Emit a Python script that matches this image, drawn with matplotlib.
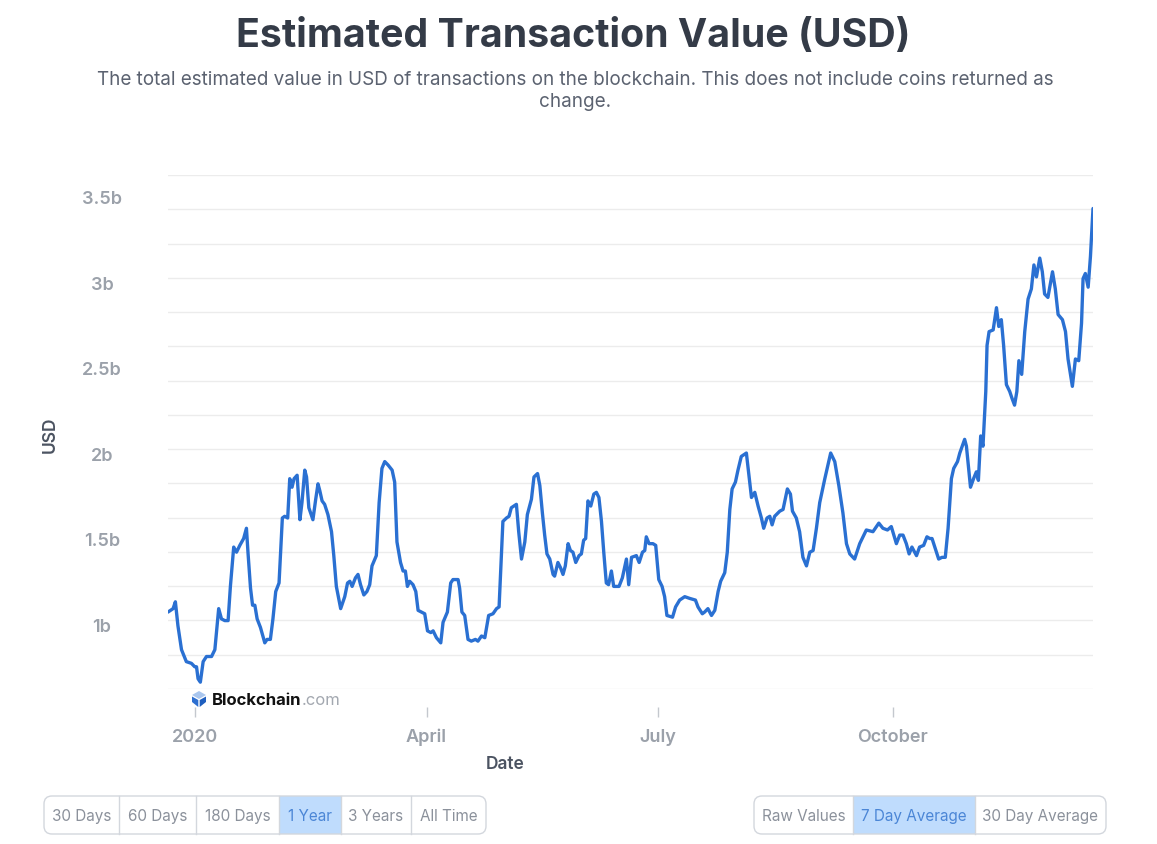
import matplotlib
matplotlib.use("Agg")
import numpy as np
import pandas as pd
import matplotlib.pyplot as plt
from matplotlib.patches import FancyBboxPatch, Rectangle, Polygon
from matplotlib.ticker import FixedLocator

plt.rcParams["font.family"] = ["Inter", "DejaVu Sans"]

# ── Data (7 day average, billions USD) ─────────
START_DATE = "2020-01-01"
DAY_OFFSETS = [
    -10.5, -8.5, -7.6, -6.6, -5.2, -3.3, -1.3, 0.0, 0.7, 1.3, 2.2, 3.3, 4.6, 6.6, 7.9, 9.4,
    10.5, 11.8, 13.1, 14.0, 15.3, 16.4, 17.7, 19.2, 20.3, 20.9, 21.9, 22.7, 23.6, 24.5, 25.8,
    27.5, 28.4, 29.7, 30.7, 31.8, 33.1, 34.4, 35.3, 36.5, 37.3, 38.2, 39.0, 40.2, 41.3, 42.1,
    43.2, 43.9, 44.8, 46.4, 47.5, 48.4, 49.1, 50.0, 51.0, 52.3, 53.7, 54.6, 55.6, 57.3, 58.9,
    60.0, 60.9, 61.8, 63.1, 64.1, 65.1, 66.4, 67.6, 68.7, 69.6, 71.3, 72.4, 73.5, 74.6, 75.9,
    77.5, 78.5, 79.4, 80.8, 81.8, 82.7, 83.5, 84.4, 85.7, 86.8, 87.7, 89.0, 90.3, 91.4, 92.7,
    93.6, 94.9, 96.6, 97.5, 99.2, 100.5, 101.4, 103.4, 104.0, 104.9, 106.0, 107.3, 108.6,
    110.2, 111.2, 112.6, 113.9, 115.4, 117.1, 118.5, 119.5, 121.0, 122.4, 123.4, 124.3, 126.3,
    127.2, 128.3, 129.6, 130.6, 132.2, 133.2, 133.9, 134.6, 135.5, 136.5, 137.4, 138.3, 139.4,
    140.7, 141.3, 142.6, 143.6, 144.6, 145.5, 146.6, 147.5, 148.5, 149.6, 150.9, 151.8, 152.7,
    153.5, 154.4, 155.5, 156.7, 157.7, 158.7, 159.7, 160.6, 161.6, 162.5, 163.6, 164.5, 165.6,
    166.6, 167.9, 169.5, 170.4, 171.5, 173.4, 174.5, 175.8, 176.7, 177.3, 178.4, 179.9, 181.0,
    182.2, 183.5, 184.5, 185.4, 187.6, 188.8, 190.4, 192.4, 194.3, 196.6, 197.6, 199.3, 200.2,
    201.5, 202.9, 204.2, 205.5, 206.5, 208.1, 209.1, 210.1, 211.0, 212.3, 213.3, 214.6, 216.6,
    217.6, 218.6, 219.9, 221.2, 222.5, 223.4, 224.7, 225.8, 226.7, 227.7, 229.7, 231.0, 232.7,
    233.9, 234.7, 236.2, 237.5, 238.8, 240.2, 241.5, 242.8, 244.1, 245.4, 247.4, 249.7, 251.3,
    252.9, 254.5, 255.9, 257.2, 259.1, 261.1, 263.7, 266.3, 268.6, 270.2, 272.0, 273.5, 275.5,
    276.8, 278.1, 279.4, 280.5, 281.6, 283.4, 284.6, 286.2, 287.5, 288.6, 289.5, 290.8, 292.1,
    293.4, 294.7, 295.8, 297.1, 298.0, 299.5, 300.4, 302.3, 303.0, 304.6, 305.8, 306.9, 307.7,
    308.6, 309.5, 310.6, 311.1, 311.9, 313.5, 314.8, 315.7, 316.7, 317.6, 318.7, 320.0, 320.9,
    321.9, 322.8, 323.6, 324.7, 325.9, 327.2, 328.5, 329.5, 330.5, 331.8, 332.8, 333.7, 335.0,
    336.8, 337.9, 339.0, 340.7, 341.9, 342.9, 344.6, 345.8, 347.1, 348.2, 348.8, 349.7, 350.8,
    351.7, 352.7,
]
VALUES_B = [
    1.07, 1.09, 1.13, 0.99, 0.85, 0.78, 0.77, 0.75, 0.75, 0.68, 0.66, 0.78, 0.81, 0.81, 0.85, 1.09,
    1.03, 1.02, 1.02, 1.22, 1.45, 1.42, 1.46, 1.50, 1.56, 1.42, 1.21, 1.11, 1.11, 1.03, 0.98,
    0.89, 0.91, 0.91, 1.03, 1.19, 1.24, 1.62, 1.63, 1.62, 1.85, 1.80, 1.85, 1.87, 1.61, 1.71,
    1.90, 1.86, 1.68, 1.61, 1.73, 1.82, 1.78, 1.72, 1.70, 1.64, 1.54, 1.40, 1.22, 1.09, 1.16,
    1.24, 1.25, 1.22, 1.27, 1.29, 1.23, 1.17, 1.19, 1.23, 1.34, 1.40, 1.71, 1.91, 1.95, 1.93,
    1.90, 1.83, 1.48, 1.36, 1.31, 1.31, 1.22, 1.25, 1.23, 1.19, 1.08, 1.07, 1.06, 0.96, 0.95,
    0.96, 0.92, 0.89, 1.01, 1.07, 1.24, 1.26, 1.26, 1.21, 1.07, 1.05, 0.91, 0.90,
    0.91, 0.90, 0.93, 0.92, 1.05, 1.06, 1.09, 1.10, 1.60, 1.62, 1.63, 1.68, 1.70,
    1.54, 1.38, 1.48, 1.64, 1.73, 1.86, 1.87, 1.88, 1.81, 1.65, 1.52, 1.41, 1.38,
    1.29, 1.28, 1.36, 1.33, 1.29, 1.34, 1.47, 1.43, 1.42, 1.36, 1.40, 1.41, 1.49,
    1.50, 1.72, 1.69, 1.76, 1.77, 1.74, 1.60, 1.42, 1.24, 1.23, 1.31, 1.22, 1.22,
    1.22, 1.27, 1.38, 1.23, 1.39, 1.40, 1.36, 1.42, 1.43, 1.51, 1.47, 1.47, 1.46,
    1.26, 1.22, 1.16, 1.05, 1.04, 1.10, 1.14, 1.16, 1.15, 1.14, 1.10, 1.06, 1.07,
    1.09, 1.05, 1.08, 1.19, 1.25, 1.30, 1.42, 1.67, 1.79, 1.83, 1.90, 1.98, 2.00,
    1.87, 1.74, 1.77, 1.69, 1.62, 1.56, 1.62, 1.63, 1.58, 1.63, 1.66, 1.67, 1.79,
    1.76, 1.66, 1.62, 1.54, 1.39, 1.34, 1.42, 1.43, 1.56, 1.71, 1.85, 2.00, 1.95,
    1.81, 1.65, 1.47, 1.41, 1.38, 1.47, 1.55, 1.54, 1.59, 1.56, 1.55, 1.57, 1.47,
    1.52, 1.52, 1.47, 1.41, 1.45, 1.40, 1.45, 1.46, 1.51, 1.50, 1.50, 1.44, 1.38,
    1.39, 1.39, 1.56, 1.85, 1.91, 1.95, 2.00, 2.08, 2.04, 1.80, 1.85, 1.89, 1.84,
    2.10, 2.04, 2.36, 2.63, 2.71, 2.72, 2.85, 2.74, 2.78, 2.63, 2.40, 2.36, 2.32,
    2.28, 2.36, 2.54, 2.46, 2.71, 2.90, 2.96, 3.10, 3.03, 3.14, 3.06, 2.93, 2.91,
    3.06, 2.96, 2.81, 2.78, 2.71, 2.55, 2.39, 2.55, 2.54, 2.76, 3.02, 3.05, 2.97,
    3.15, 3.43,
]

TICK_DATES = ["2020-01-01", "2020-04-01", "2020-07-01", "2020-10-01"]
TICK_LABELS = ["2020", "April", "July", "October"]
Y_TICKS = [1.0, 1.5, 2.0, 2.5, 3.0, 3.5]
Y_LABELS = ["1b", "1.5b", "2b", "2.5b", "3b", "3.5b"]
RANGE_BUTTONS = ["30 Days", "60 Days", "180 Days", "1 Year", "3 Years", "All Time"]
AVG_BUTTONS = ["Raw Values", "7 Day Average", "30 Day Average"]

TITLE = "Estimated Transaction Value (USD)"
SUBTITLE = ("The total estimated value in USD of transactions on the blockchain. "
            "This does not include coins returned as\nchange.")

COLORS = {
    "line": "#2a70d2",
    "grid": "#ececec",
    "tick": "#9ba1aa",
    "axis_label": "#4b5361",
    "title": "#343b47",
    "subtitle": "#5b6270",
    "btn_text": "#8b919b",
    "btn_active_bg": "#bfdcfd",
    "btn_active_text": "#4b86d6",
    "btn_border": "#d3d7dd",
}

W, H = 1157, 845
fig = plt.figure(figsize=(W / 100, H / 100), dpi=100, facecolor="white")

# ── Main chart ─────────────────────────────────
ax = fig.add_axes([168 / W, 1 - 690 / H, 925 / W, 514 / H])
dates = pd.Timestamp(START_DATE) + pd.to_timedelta(DAY_OFFSETS, unit="D")
ax.plot(dates, VALUES_B, color=COLORS["line"], linewidth=2.4,
        solid_joinstyle="round", solid_capstyle="round", zorder=3)

y0, y1 = 0.62, 3.626
ax.set_ylim(y0, y1)
ax.set_xlim(dates[0], dates[-1])

for s in ax.spines.values():
    s.set_color("none")
ax.spines["bottom"].set_position(("outward", 13))

ax.set_yticks(Y_TICKS)
ax.set_yticklabels(Y_LABELS)
ax.yaxis.set_minor_locator(FixedLocator(np.linspace(y0, y1, 16)))
ax.grid(axis="y", which="minor", color=COLORS["grid"], linewidth=1)
ax.tick_params(axis="y", which="both", length=0, pad=47.5,
               labelsize=13, labelcolor=COLORS["tick"])
for lbl in ax.get_yticklabels():
    lbl.set_horizontalalignment("center")
    lbl.set_fontweight("semibold")

ax.set_xticks(pd.to_datetime(TICK_DATES))
ax.set_xticklabels(TICK_LABELS)
ax.tick_params(axis="x", length=7, width=1, color="#c4c8ce", pad=8,
               labelsize=13, labelcolor=COLORS["tick"])
for lbl in ax.get_xticklabels():
    lbl.set_fontweight("semibold")

# ── Texts ──────────────────────────────────────
fig.text(573 / W, 1 - 36 / H, TITLE, ha="center", va="center",
         fontsize=28.3, fontweight="bold", color=COLORS["title"])
fig.text(575 / W, 1 - 91 / H, SUBTITLE, ha="center", va="center",
         fontsize=13.6, color=COLORS["subtitle"], linespacing=1.32)
fig.text(50 / W, 1 - 435 / H, "USD", rotation=90, ha="center", va="center",
         fontsize=12.5, fontweight="semibold", color=COLORS["axis_label"])
fig.text(505 / W, 1 - 765 / H, "Date", ha="center", va="center",
         fontsize=12.5, fontweight="semibold", color=COLORS["axis_label"])

# ── Overlay in pixel coordinates (logo, buttons) ──
ov = fig.add_axes([0, 0, 1, 1], zorder=5)
ov.set_xlim(0, W)
ov.set_ylim(H, 0)
ov.axis("off")

# Blockchain.com watermark
ov.add_patch(Polygon([(192, 696), (199, 692), (206, 696), (199, 700)],
                     closed=True, color="#a9c6ee", lw=0))
ov.add_patch(Polygon([(192, 697.5), (198.3, 701), (198.3, 708), (192, 703)],
                     closed=True, color="#2d6fd0", lw=0))
ov.add_patch(Polygon([(206, 697.5), (199.7, 701), (199.7, 708), (206, 703)],
                     closed=True, color="#1f5fbf", lw=0))
t_logo = ov.text(212, 700.5, "Blockchain", ha="left", va="center",
                 fontsize=12, fontweight="bold", color="#111111")
ov.annotate(".com", xy=(1, 0.5), xycoords=t_logo, ha="left", va="center",
            fontsize=12, color="#a3a8b0")


def button_group(edges, labels, active, top=797, bottom=835):
    h = bottom - top
    x0, x1 = edges[0], edges[-1]
    ia = labels.index(active)
    ov.add_patch(Rectangle((edges[ia], top), edges[ia + 1] - edges[ia], h,
                           color=COLORS["btn_active_bg"], lw=0, zorder=1))
    ov.add_patch(FancyBboxPatch((x0, top), x1 - x0, h,
                                boxstyle="round,pad=0,rounding_size=8",
                                fc="none", ec=COLORS["btn_border"], lw=1, zorder=2))
    for e in edges[1:-1]:
        ov.plot([e, e], [top, bottom], color=COLORS["btn_border"], lw=1, zorder=2)
    for i, lab in enumerate(labels):
        c = COLORS["btn_active_text"] if lab == active else COLORS["btn_text"]
        ov.text((edges[i] + edges[i + 1]) / 2, (top + bottom) / 2 + 0.5, lab,
                ha="center", va="center", fontsize=11, color=c, zorder=3)


button_group([44, 119, 196, 279, 341, 411, 486], RANGE_BUTTONS, "1 Year")
button_group([754, 853, 975, 1106], AVG_BUTTONS, "7 Day Average")

fig.savefig("out.png", dpi=100, facecolor="white")
